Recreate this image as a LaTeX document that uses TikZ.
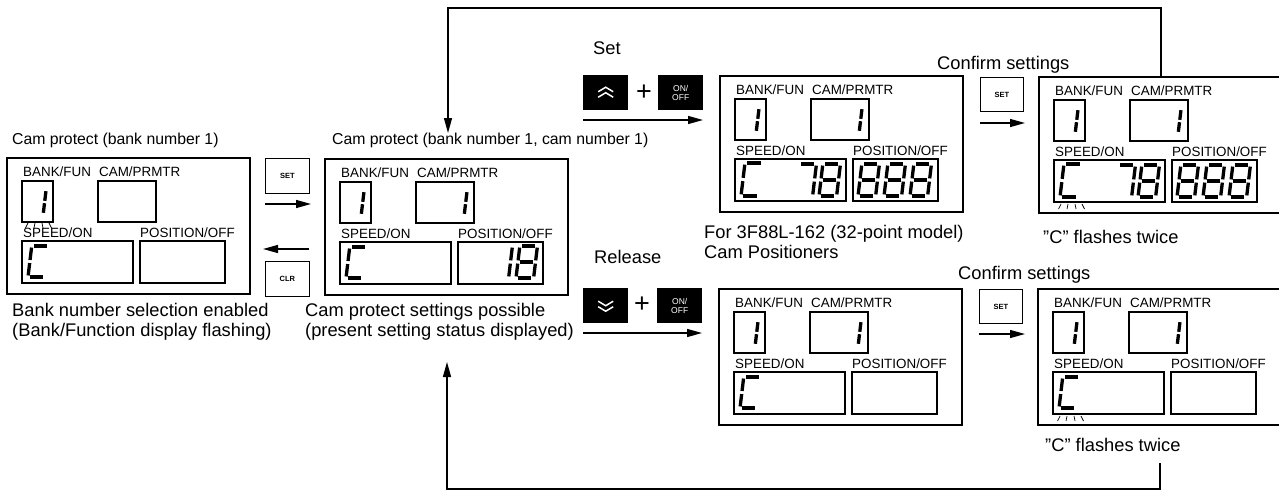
\documentclass[tikz,border=0pt]{standalone}
\usepackage{fontspec}
\setmainfont{Liberation Sans}
\usetikzlibrary{arrows.meta}
\newcommand\capfont{\fontsize{18.3}{20}\selectfont}
\newcommand\smlfont{\fontsize{15.8}{18}\selectfont}
\newcommand\plabfont{\fontsize{13.4}{14}\selectfont}
\newcommand\keyfont{\fontsize{7.5}{8}\selectfont\bfseries}
\newcommand\onofffont{\fontsize{8.5}{9}\selectfont}
\tikzset{
  panel/.style={draw, line width=1.1pt, minimum width=243pt, minimum height=136pt, inner sep=0pt, outer sep=0pt, anchor=north west},
  win/.style={draw, line width=1.1pt, inner sep=0pt, outer sep=0pt, anchor=north west},
  plab/.style={anchor=west, inner sep=0pt, font=\plabfont},
  segline/.style={line width=3.3pt, line cap=butt},
  tickline/.style={line width=0.7pt},
  key/.style={draw, line width=0.9pt, minimum width=44pt, minimum height=35pt, inner sep=0pt, anchor=north west, font=\keyfont},
  bkey/.style={fill=black, minimum width=45pt, minimum height=35pt, inner sep=0pt, anchor=north west, text=white, font=\onofffont, align=center},
  chev/.style={white, line width=1.5pt},
  plus/.style={inner sep=0pt, font=\fontsize{27}{27}\selectfont},
  arr/.style={-{Triangle[length=15pt,width=8pt]}, line width=1.3pt},
  captxt/.style={anchor=west, inner sep=0pt, font=\capfont, align=left},
  smltxt/.style={anchor=west, inner sep=0pt, font=\smlfont},
}
% seven-segment pieces (unit height)
\newcommand\dsga{\draw[segline] (0.07,1)--(0.48,1);}
\newcommand\dsgb{\draw[segline] (0.55,0.95)--(0.55,0.55);}
\newcommand\dsgc{\draw[segline] (0.55,0.45)--(0.55,0.05);}
\newcommand\dsgd{\draw[segline] (0.07,0)--(0.48,0);}
\newcommand\dsge{\draw[segline] (0,0.05)--(0,0.45);}
\newcommand\dsgf{\draw[segline] (0,0.55)--(0,0.95);}
\newcommand\dsgg{\draw[segline] (0.07,0.5)--(0.48,0.5);}
\newcommand\sevdig[4]{\begin{scope}[shift={(#1,-#2)},scale=#3,xslant=0.12]\foreach \s in {#4}{\csname dsg\s\endcsname}\end{scope}}
\newcommand\flashmk[2]{\foreach \dx/\sh in {0/-2.5,7/-1,14/1,21/2.5}{\draw[tickline] (#1+\dx,-#2) -- ++(\sh,-5);}}
\newcommand\dpanel[4]{%
  \begin{scope}[shift={(#2,-#3)}]
  \node[panel] (#1) at (0,0) {};
  \node[win,minimum width=31pt,minimum height=41pt] (#1-bank) at (15,-23) {};
  \node[win,minimum width=58pt,minimum height=41pt] (#1-cam) at (91,-23) {};
  \node[win,minimum width=111pt,minimum height=42pt] (#1-spd) at (15,-83) {};
  \node[win,minimum width=85pt,minimum height=42pt] (#1-pos) at (133,-83) {};
  \node[plab] (#1-l1) at (16,-14) {BANK/FUN};
  \node[plab] (#1-l2) at (92,-14) {CAM/PRMTR};
  \node[plab] (#1-l3) at (16,-75) {SPEED/ON};
  \node[plab] (#1-l4) at (133,-75) {POSITION/OFF};
  #4
  \end{scope}}
\begin{document}
\begin{tikzpicture}[x=1pt,y=1pt]
\path[use as bounding box] (0,0) rectangle (1279,-493);
\fill[white] (0,0) rectangle (1279,-493);
\clip (0,0) rectangle (1279,-493);

% panels
\dpanel{p1}{7}{158}{%
  \sevdig{23}{56}{24}{b,c}
  \sevdig{21}{119}{31}{a,d,e,f}
  \flashmk{21}{65}}
\dpanel{p2}{325}{159}{%
  \sevdig{23}{56}{24}{b,c}
  \sevdig{126}{56}{24}{b,c}
  \sevdig{21}{119}{31}{a,d,e,f}
  \sevdig{166}{119}{32}{b,c}
  \sevdig{191}{119}{32}{a,b,c,d,e,f,g}}
\dpanel{p3}{720}{76}{%
  \sevdig{23}{56}{24}{b,c}
  \sevdig{126}{56}{24}{b,c}
  \sevdig{21}{120}{33}{a,d,e,f}
  \sevdig{75}{120}{32}{a,b,c}
  \sevdig{99}{120}{32}{a,b,c,d,e,f,g}
  \sevdig{138}{120}{32}{a,b,c,d,e,f,g}
  \sevdig{164}{120}{32}{a,b,c,d,e,f,g}
  \sevdig{190}{120}{32}{a,b,c,d,e,f,g}}
\dpanel{p4}{1039}{77}{%
  \sevdig{23}{56}{24}{b,c}
  \sevdig{126}{56}{24}{b,c}
  \sevdig{21}{120}{33}{a,d,e,f}
  \sevdig{75}{120}{32}{a,b,c}
  \sevdig{99}{120}{32}{a,b,c,d,e,f,g}
  \sevdig{138}{120}{32}{a,b,c,d,e,f,g}
  \sevdig{164}{120}{32}{a,b,c,d,e,f,g}
  \sevdig{190}{120}{32}{a,b,c,d,e,f,g}
  \flashmk{22}{127}}
\dpanel{p5}{719}{289}{%
  \sevdig{23}{56}{24}{b,c}
  \sevdig{126}{56}{24}{b,c}
  \sevdig{21}{119}{31}{a,d,e,f}}
\dpanel{p6}{1038}{289}{%
  \sevdig{23}{56}{24}{b,c}
  \sevdig{126}{56}{24}{b,c}
  \sevdig{21}{119}{31}{a,d,e,f}
  \flashmk{22}{127}}

% keys
\node[key] (kset1) at (265,-158) {SET};
\node[key] (kclr) at (265,-261) {CLR};
\node[key,minimum width=43pt,minimum height=34pt] (kset2) at (980,-77) {SET};
\node[key,minimum width=43pt,minimum height=34pt] (kset3) at (979,-289) {SET};
\node[bkey] (kup) at (583,-75) {};
\node[bkey] (kon1) at (658,-75) {ON/\\OFF};
\node[bkey] (kdn) at (583,-288) {};
\node[bkey] (kon2) at (657,-288) {ON/\\OFF};
\node[plus] (pl1) at (644,-93) {+};
\node[plus] (pl2) at (642,-305) {+};
\begin{scope}[shift={(kup.center)}]
  \draw[chev] (-7.5,1)--(0,5.5)--(7.5,1) (-7.5,-4.5)--(0,0)--(7.5,-4.5);
\end{scope}
\begin{scope}[shift={(kdn.center)}]
  \draw[chev] (-7.5,-1)--(0,-5.5)--(7.5,-1) (-7.5,4.5)--(0,0)--(7.5,4.5);
\end{scope}

% texts
\node[smltxt] (tp1) at (12,-140) {Cam protect (bank number 1)};
\node[smltxt] (tp2) at (332,-140) {Cam protect (bank number 1, cam number 1)};
\node[captxt] (c1) at (12,-322) {Bank number selection enabled\\(Bank/Function display flashing)};
\node[captxt] (c2) at (305,-322) {Cam protect settings possible\\(present setting status displayed)};
\node[captxt] (tset) at (593,-48) {Set};
\node[captxt] (trel) at (594,-257) {Release};
\node[captxt] (tconf1) at (937,-65) {Confirm settings};
\node[captxt] (tconf2) at (958,-275) {Confirm settings};
\node[captxt] (tfor) at (704,-242) {For 3F88L-162 (32-point model)\\Cam Positioners};
\node[captxt] (tfl1) at (1043,-237) {”C” flashes twice};
\node[captxt] (tfl2) at (1045,-445) {”C” flashes twice};

% arrow end points
\coordinate (a1s) at (265,-204); \coordinate (a1e) at (311,-204);
\coordinate (a2s) at (309,-249); \coordinate (a2e) at (263,-249);
\coordinate (a3s) at (583,-120); \coordinate (a3e) at (703,-120);
\coordinate (a4s) at (980,-123); \coordinate (a4e) at (1025,-123);
\coordinate (a5s) at (583,-333); \coordinate (a5e) at (702,-333);
\coordinate (a6s) at (979,-334); \coordinate (a6e) at (1025,-334);
\draw[arr] (a1s) -- (a1e);
\draw[arr] (a2s) -- (a2e);
\draw[arr] (a3s) -- (a3e);
\draw[arr] (a4s) -- (a4e);
\draw[arr] (a5s) -- (a5e);
\draw[arr] (a6s) -- (a6e);

% return loops
\coordinate (t1) at (1161,-77);
\coordinate (t2) at (448,-8);
\coordinate (t3) at (448,-133);
\draw[arr] (t1) |- (t2) -- (t3);
\coordinate (b1) at (1160,-463);
\coordinate (b2) at (447,-489);
\coordinate (b3) at (447,-362);
\draw[arr] (b1) |- (b2) -- (b3);
\end{tikzpicture}
\end{document}
